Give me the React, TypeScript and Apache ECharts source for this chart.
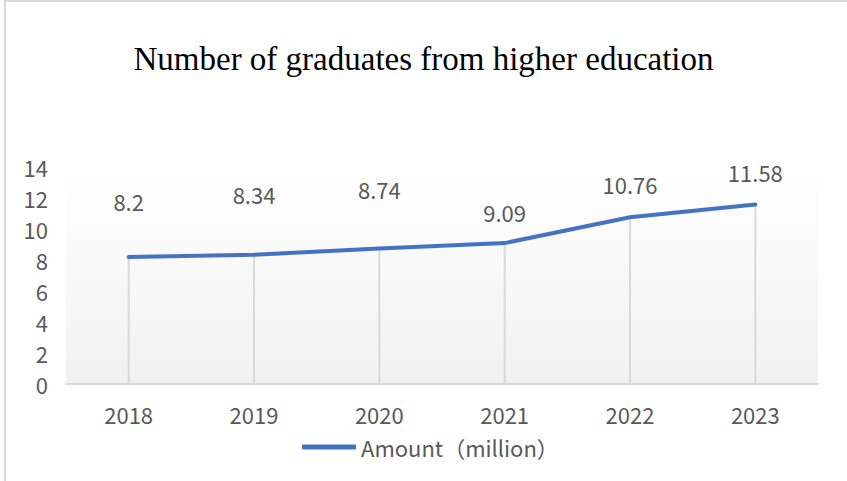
import React, { useEffect, useRef } from "react";
import * as echarts from "echarts";

const categories = ["2018", "2019", "2020", "2021", "2022", "2023"];
const amounts = [8.2, 8.34, 8.74, 9.09, 10.76, 11.58];
const seriesName = "Amount（million）";
const titleText = "Number of graduates from higher education";
const labelDistances = [45, 50, 49, 20, 22, 22];

const FONT = "'Noto Sans CJK SC', 'Noto Sans', sans-serif";
const GREY_TEXT = "#595959";

export default function App() {
  const ref = useRef<HTMLDivElement>(null);
  useEffect(() => {
    if (!ref.current) return;
    const chart = echarts.init(ref.current, undefined, { renderer: "svg" });
    chart.setOption({
      animation: false,
      backgroundColor: "#ffffff",
      title: {
        text: titleText,
        left: "center",
        top: 37,
        textStyle: {
          fontFamily: "'Liberation Serif', 'Times New Roman', serif",
          fontSize: 33,
          fontWeight: "normal",
          color: "#000000",
        },
      },
      legend: {
        data: [{ name: seriesName, icon: "roundRect" }],
        left: 297,
        top: 431,
        itemWidth: 54,
        itemHeight: 5,
        itemGap: 4,
        textStyle: { fontFamily: FONT, fontSize: 22, color: GREY_TEXT },
      },
      grid: {
        left: 66,
        right: 29,
        top: 167,
        bottom: 97,
        show: true,
        borderWidth: 0,
        backgroundColor: new echarts.graphic.LinearGradient(0, 0, 0, 1, [
          { offset: 0, color: "#ffffff" },
          { offset: 1, color: "#f1f1f1" },
        ]),
      },
      xAxis: {
        type: "category",
        data: categories,
        boundaryGap: true,
        axisLine: { show: true, lineStyle: { color: "#d9d9d9", width: 2 } },
        axisTick: { show: false },
        axisLabel: { color: GREY_TEXT, fontFamily: FONT, fontSize: 22, margin: 19 },
        splitLine: { show: false },
      },
      yAxis: {
        type: "value",
        min: 0,
        max: 14,
        interval: 2,
        axisLine: { show: false },
        axisTick: { show: false },
        splitLine: { show: false },
        axisLabel: { color: GREY_TEXT, fontFamily: FONT, fontSize: 22, margin: 18 },
      },
      series: [
        {
          name: "drop",
          type: "bar",
          data: amounts.map((v, i) => ({
            value: v,
            label: { distance: labelDistances[i] },
          })),
          barWidth: 2,
          itemStyle: { color: "#d9d9d9" },
          silent: true,
          z: 1,
          label: {
            show: true,
            position: "top",
            color: GREY_TEXT,
            fontFamily: FONT,
            fontSize: 22,
          },
        },
        {
          name: seriesName,
          type: "line",
          data: amounts,
          symbol: "none",
          z: 3,
          lineStyle: { color: "#4472C4", width: 4, cap: "round", join: "round" },
          itemStyle: { color: "#4472C4" },
        },
      ],
      graphic: [
        { type: "rect", shape: { x: 4, y: 0, width: 2, height: 481 }, style: { fill: "#d9d9d9" }, silent: true },
        { type: "rect", shape: { x: 4, y: 0, width: 843, height: 2 }, style: { fill: "#d9d9d9" }, silent: true },
      ],
    });
    return () => chart.dispose();
  }, []);
  return (
    <div
      ref={ref}
      style={{ position: "fixed", left: 0, top: 0, width: 847, height: 481 }}
    />
  );
}
